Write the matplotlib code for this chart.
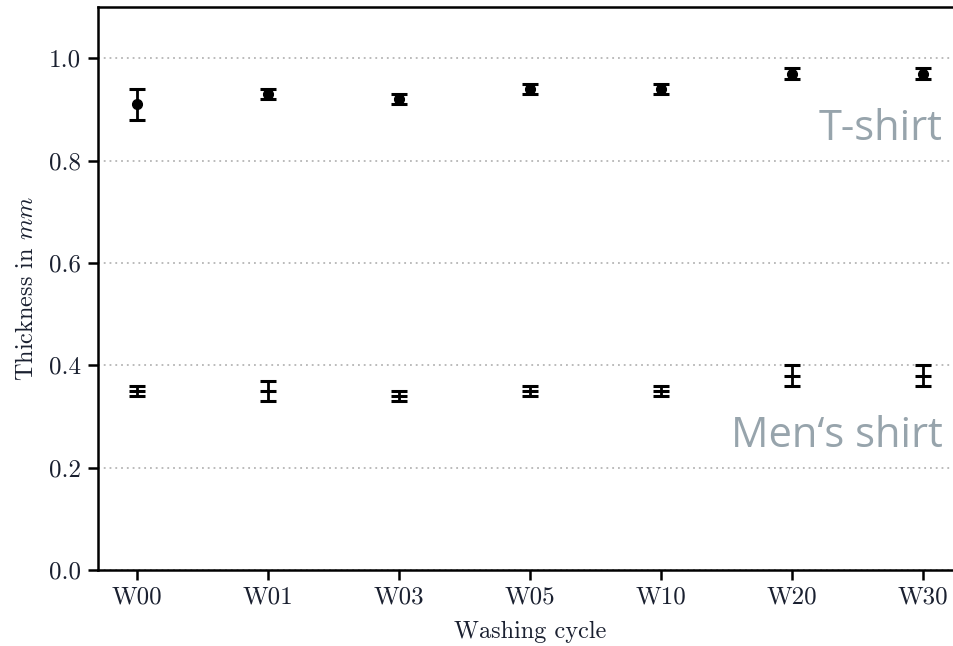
import matplotlib
matplotlib.use("Agg")
import matplotlib.pyplot as plt
import numpy as np

plt.rcParams['font.family'] = 'serif'
plt.rcParams['font.serif'] = ['cmr10']
plt.rcParams['mathtext.fontset'] = 'cm'
plt.rcParams['axes.unicode_minus'] = False
plt.rcParams['axes.formatter.use_mathtext'] = True

cycles = ["W00", "W01", "W03", "W05", "W10", "W20", "W30"]
tshirt_mean = [0.91, 0.93, 0.92, 0.94, 0.94, 0.97, 0.97]
tshirt_err = [0.03, 0.01, 0.01, 0.01, 0.01, 0.01, 0.01]
mens_mean = [0.35, 0.35, 0.34, 0.35, 0.35, 0.38, 0.38]
mens_err = [0.01, 0.02, 0.01, 0.01, 0.01, 0.02, 0.02]
yticks = [0.0, 0.2, 0.4, 0.6, 0.8, 1.0]

W, H = 954, 646
fig = plt.figure(figsize=(W / 100, H / 100), dpi=100)
ax = fig.add_axes([98 / W, 76 / H, 864.6 / W, 563 / H])

x = np.arange(len(cycles))
ax.errorbar(x, tshirt_mean, yerr=tshirt_err, fmt='o', color='black',
            markersize=7, elinewidth=2.0, capsize=6, capthick=2.2, zorder=3)
ax.errorbar(x, mens_mean, yerr=mens_err, fmt='_', color='black',
            markersize=12, markeredgewidth=2.2, elinewidth=2.0,
            capsize=6, capthick=2.2, zorder=3)

ax.set_xlim(-0.3, 6.3)
ax.set_ylim(0.0, 1.1)
ax.set_xticks(x)
ax.set_xticklabels(cycles)
ax.set_yticks(yticks)
ax.set_yticklabels([f"{v:.1f}" for v in yticks])
ax.yaxis.grid(True, linestyle=(0, (1, 2.2)), color='#b5b5b5', linewidth=1.3)
ax.set_axisbelow(True)

for s in ax.spines.values():
    s.set_linewidth(1.8)
ax.tick_params(direction='out', length=7, width=1.8, labelsize=18, pad=5,
               colors='black', labelcolor='#1a2030')

ax.set_xlabel("Washing cycle", fontsize=17.5, labelpad=9, color='#1a2030')
ax.set_ylabel("Thickness in $mm$", fontsize=17.5, labelpad=8, color='#1a2030')

ax.text(943 / W, 1 - 129 / H, "T-shirt", transform=fig.transFigure, ha='right',
        va='center', fontsize=30, color='#97a4ac', family='Open Sans')
ax.text(943 / W, 1 - 436 / H, "Men\u2018s shirt", transform=fig.transFigure,
        ha='right', va='center', fontsize=30, color='#97a4ac',
        family='Open Sans')

fig.savefig("out.png", dpi=100)
